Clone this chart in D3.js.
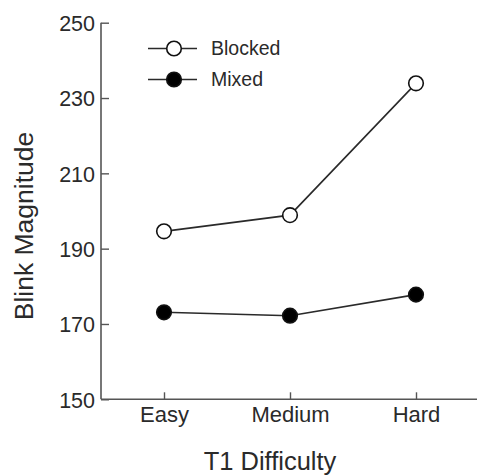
<!DOCTYPE html>
<html>
<head>
<meta charset="utf-8">
<script src="https://cdn.jsdelivr.net/npm/d3@7"></script>
<style>
  html, body { margin: 0; padding: 0; background: #fff; }
  svg { display: block; font-family: "Liberation Sans", Arial, Helvetica, sans-serif; }
</style>
</head>
<body>
<svg id="chart" width="477" height="475"></svg>
<script>
// Blink magnitude by T1 difficulty, for blocked and mixed presentation
const categories = ["Easy", "Medium", "Hard"];
const blockedValues = [194.6, 198.9, 233.9];
const mixedValues = [173.1, 172.2, 177.8];
const yTicks = [150, 170, 190, 210, 230, 250];
const seriesNames = ["Blocked", "Mixed"];

const svg = d3.select("#chart");
const ink = "#2a2a2a";
const axisInk = "#555";

const x = d3.scalePoint().domain(categories).range([101, 479]).padding(0.5);
const y = d3.scaleLinear().domain([150, 250]).range([399.3, 22.7]);

// Y axis: ticks point inward (to the right)
const yAxis = svg.append("g").attr("transform", "translate(101,0)")
  .call(d3.axisRight(y).tickValues(yTicks).tickSize(8).tickFormat(d3.format("d")));
yAxis.select(".domain").attr("stroke", axisInk).attr("stroke-width", 1.6).attr("d", `M0,${y(250)}V${y(150)}`);
yAxis.selectAll(".tick line").attr("stroke", axisInk).attr("stroke-width", 1.4);
yAxis.selectAll(".tick text")
  .attr("x", -6).attr("text-anchor", "end")
  .attr("font-size", 21.5).attr("fill", ink).attr("dy", "0.36em");

// X axis: ticks point inward (upward)
const xAxis = svg.append("g").attr("transform", `translate(0,${y(150)})`)
  .call(d3.axisTop(x).tickSize(7));
xAxis.select(".domain").attr("stroke", axisInk).attr("stroke-width", 1.6).attr("d", "M101,0H477");
xAxis.selectAll(".tick line").attr("stroke", axisInk).attr("stroke-width", 1.4);
xAxis.selectAll(".tick text")
  .attr("y", 23).attr("dy", 0).attr("text-anchor", "middle")
  .attr("font-size", 22).attr("fill", ink);

// Axis titles
svg.append("text").attr("x", 270).attr("y", 470).attr("text-anchor", "middle")
  .attr("font-size", 25.5).attr("fill", ink).text("T1 Difficulty");
svg.append("text").attr("transform", "translate(33,226) rotate(-90)")
  .attr("text-anchor", "middle").attr("font-size", 26.5).attr("fill", ink).text("Blink Magnitude");

// Series lines and markers
const line = d3.line().x((d, i) => x(categories[i])).y(d => y(d));
const series = [
  { name: seriesNames[0], values: blockedValues, fill: "#fff" },
  { name: seriesNames[1], values: mixedValues, fill: "#000" }
];
series.forEach(s => {
  svg.append("path").datum(s.values).attr("d", line)
    .attr("fill", "none").attr("stroke", ink).attr("stroke-width", 1.6);
  svg.selectAll(null).data(s.values).enter().append("circle")
    .attr("cx", (d, i) => x(categories[i])).attr("cy", d => y(d)).attr("r", 7.3)
    .attr("fill", s.fill).attr("stroke", "#111").attr("stroke-width", 1.6);
});

// Legend
const legend = svg.append("g");
series.forEach((s, i) => {
  const ly = 48.5 + i * 31;
  legend.append("line").attr("x1", 148).attr("x2", 197).attr("y1", ly).attr("y2", ly)
    .attr("stroke", ink).attr("stroke-width", 1.6);
  legend.append("circle").attr("cx", 174).attr("cy", ly).attr("r", 7.3)
    .attr("fill", s.fill).attr("stroke", "#111").attr("stroke-width", 1.6);
  legend.append("text").attr("x", 211).attr("y", ly + 6.5)
    .attr("font-size", 19.5).attr("fill", ink).text(s.name);
});
</script>
</body>
</html>
